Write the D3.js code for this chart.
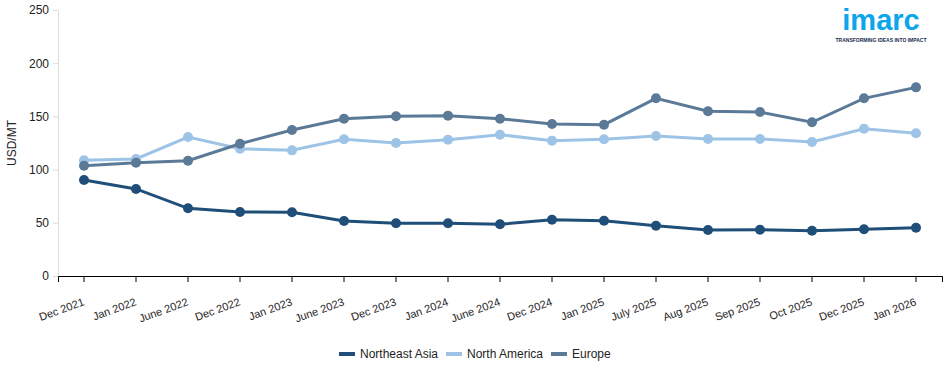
<!DOCTYPE html>
<html>
<head>
<meta charset="utf-8">
<script src="https://cdn.jsdelivr.net/npm/d3@7"></script>
<style>
  body { margin: 0; background: #fff; font-family: Arial, "Liberation Sans", sans-serif; }
  svg text { font-family: Arial, "Liberation Sans", sans-serif; }
</style>
</head>
<body>
<svg id="chart" width="950" height="370"></svg>
<script>
const width = 950;
const height = 370;

var periods = ["Dec 2021", "Jan 2022", "June 2022", "Dec 2022", "Jan 2023", "June 2023", "Dec 2023", "Jan 2024",
  "June 2024", "Dec 2024", "Jan 2025", "July 2025", "Aug 2025", "Sep 2025", "Oct 2025", "Dec 2025", "Jan 2026"];
var northeastAsia = [90.2, 81.8, 63.6, 60.2, 59.9, 51.7, 49.5, 49.5, 48.6, 52.9, 52.0, 47.3, 43.2, 43.5, 42.6, 43.9, 45.4];
var northAmerica = [108.7, 110.0, 130.6, 119.6, 118.1, 128.5, 125.0, 128.1, 132.8, 127.2, 128.5, 131.6, 128.8, 128.8, 125.9, 138.4, 134.1];
var europe = [103.7, 106.5, 108.4, 124.3, 137.2, 147.8, 150.1, 150.7, 147.8, 142.9, 142.2, 167.0, 154.8, 154.1, 144.5, 167.0, 177.3];
var yTicks = [0, 50, 100, 150, 200, 250];

var series = [
  { name: "Northeast Asia", values: northeastAsia, color: "#1f4e79" },
  { name: "North America", values: northAmerica, color: "#9dc3e6" },
  { name: "Europe", values: europe, color: "#5b7a97" }
];

var margin = { top: 10, right: 8, bottom: 94, left: 58 };
var svg = d3.select("#chart");

var x = d3.scaleBand()
  .domain(periods)
  .range([margin.left, width - margin.right]);

var y = d3.scaleLinear()
  .domain([0, 250])
  .range([height - margin.bottom, margin.top]);

// y axis (light grey)
var yAxis = svg.append("g")
  .attr("transform", `translate(${margin.left},0)`)
  .call(d3.axisLeft(y).tickValues(yTicks).tickSize(5).tickPadding(4));
yAxis.select(".domain").attr("stroke", "#dcdcdc");
yAxis.selectAll(".tick line").attr("stroke", "#dcdcdc");
yAxis.selectAll("text").attr("fill", "#222").style("font-size", "12px");

// x axis
var xAxis = svg.append("g")
  .attr("transform", `translate(0,${height - margin.bottom})`)
  .call(d3.axisBottom(x).tickSizeOuter(0).tickSize(6));
xAxis.select(".domain").attr("stroke", "#000");
xAxis.selectAll(".tick line").attr("stroke", "#000");
xAxis.selectAll("text")
  .attr("fill", "#222")
  .style("font-size", "11px")
  .attr("text-anchor", "end")
  .attr("dx", "-9")
  .attr("dy", "18.5")
  .attr("transform", "rotate(-20)");

// y label
svg.append("text")
  .attr("transform", `translate(16,${(margin.top + height - margin.bottom) / 2}) rotate(-90)`)
  .attr("text-anchor", "middle")
  .style("font-size", "12px")
  .attr("fill", "#222")
  .text("USD/MT");

var line = d3.line()
  .x((d, i) => x(periods[i]) + x.bandwidth() / 2)
  .y(d => y(d));

series.forEach(function (s) {
  svg.append("path")
    .datum(s.values)
    .attr("fill", "none")
    .attr("stroke", s.color)
    .attr("stroke-width", 3)
    .attr("d", line);

  svg.selectAll(null)
    .data(s.values)
    .enter().append("circle")
    .attr("cx", (d, i) => x(periods[i]) + x.bandwidth() / 2)
    .attr("cy", d => y(d))
    .attr("r", 5)
    .attr("fill", s.color);
});

// legend
var legend = svg.append("g").attr("transform", "translate(339,354)");
var offsets = [0, 107, 212];
series.forEach(function (s, i) {
  var g = legend.append("g").attr("transform", `translate(${offsets[i]},0)`);
  g.append("rect").attr("x", 0).attr("y", -2).attr("width", 16).attr("height", 4).attr("fill", s.color);
  g.append("text").attr("x", 21).attr("y", 4).style("font-size", "12px").attr("fill", "#222").text(s.name);
});

// logo
var logo = svg.append("g").attr("transform", "translate(881,0)");
logo.append("text")
  .attr("x", 0).attr("y", 30)
  .attr("text-anchor", "middle")
  .style("font-size", "29px")
  .style("font-weight", "bold")
  .attr("fill", "#0aa5ea")
  .text("imarc");
logo.append("text")
  .attr("x", 0).attr("y", 42)
  .attr("text-anchor", "middle")
  .style("font-size", "5px")
  .style("font-weight", "bold")
  .attr("fill", "#1a2b4c")
  .text("TRANSFORMING IDEAS INTO IMPACT");
</script>
</body>
</html>
